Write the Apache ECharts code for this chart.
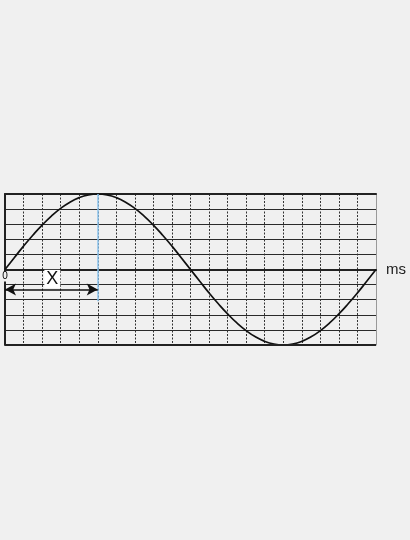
<!DOCTYPE html>
<html>
<head>
<meta charset="utf-8">
<style>
html,body{margin:0;padding:0;background:#f0f0f0;}
#chart{width:410px;height:540px;}
</style>
<script src="https://cdn.jsdelivr.net/npm/echarts@6/dist/echarts.min.js"></script>
</head>
<body>
<div id="chart"></div>
<script>
var xValues = [0,0.5,1,1.5,2,2.5,3,3.5,4,4.5,5,5.5,6,6.5,7,7.5,8,8.5,9,9.5,10,
               10.5,11,11.5,12,12.5,13,13.5,14,14.5,15,15.5,16,16.5,17,17.5,18,18.5,19,19.5,20];
var yValues = [0,0.78,1.55,2.27,2.94,3.54,4.05,4.46,4.76,4.94,5,4.94,4.76,4.46,4.05,3.54,2.94,2.27,1.55,0.78,0,
               -0.78,-1.55,-2.27,-2.94,-3.54,-4.05,-4.46,-4.76,-4.94,-5,-4.94,-4.76,-4.46,-4.05,-3.54,-2.94,-2.27,-1.55,-0.78,0];
var xUnit = 'ms';
var zeroLabel = '0';
var markX = 5;        // blue marker position
var arrowY = -1.32;   // level of the X arrow
var blueBottom = -2.1;
var labelText = 'X';

var chart = echarts.init(document.getElementById('chart'));
var data = xValues.map(function(x,i){return [x, yValues[i]];});
chart.setOption({
  backgroundColor: '#f0f0f0',
  animation: false,
  grid: {left: 5, right: 34, top: 194, bottom: 195},
  xAxis: [{
    type: 'value', min: 0, max: 20, interval: 1,
    name: xUnit, nameLocation: 'end', nameGap: 10,
    nameTextStyle: {color: '#222', fontSize: 15, fontFamily: 'Liberation Sans', verticalAlign: 'middle'},
    axisLine: {show: true, onZero: true, onZeroAxisIndex: 0, lineStyle: {color: '#222', width: 2}},
    axisTick: {show: false},
    axisLabel: {show: false},
    splitLine: {show: true, lineStyle: {color: '#333', width: 1, type: [2,1.5]}}
  }, {
    type: 'value', min: 0, max: 20, position: 'top',
    axisLine: {show: true, onZero: false, lineStyle: {color: '#222', width: 2}},
    axisTick: {show: false}, axisLabel: {show: false}, splitLine: {show: false}
  }],
  yAxis: [{
    type: 'value', min: -5, max: 5, interval: 1,
    axisLine: {show: true, onZero: false, lineStyle: {color: '#222', width: 2}},
    axisTick: {show: false}, axisLabel: {show: false},
    splitLine: {show: true, lineStyle: {color: '#2a2a2a', width: 1.2}}
  }, {
    type: 'value', min: -5, max: 5, position: 'right',
    axisLine: {show: true, onZero: false, lineStyle: {color: '#999', width: 1}},
    axisTick: {show: false}, axisLabel: {show: false}, splitLine: {show: false}
  }],
  series: [{
    type: 'line',
    data: data,
    smooth: true,
    showSymbol: false,
    lineStyle: {color: '#111', width: 1.7},
    markLine: {
      silent: true,
      animation: false,
      data: [
        [{coord: [markX, 5], symbol: 'none'}, {coord: [markX, blueBottom], symbol: 'none', lineStyle: {color: '#8cc4ee', width: 1.5, type: 'solid'}}],
        [{coord: [0, arrowY], symbol: 'arrow'}, {coord: [markX, arrowY], symbol: 'arrow', lineStyle: {color: '#111', width: 1.5, type: 'solid'}}],
        [{coord: [0, -5], symbol: 'none'}, {coord: [20, -5], symbol: 'none', lineStyle: {color: '#222', width: 2, type: 'solid'}}]
      ],
      symbolSize: [9, 11],
      label: {show: false}
    },
    markPoint: {
      silent: true,
      symbol: 'rect', symbolSize: 0,
      data: [
        {coord: [2.55, -0.62], label: {
          show: true, formatter: labelText, position: 'inside',
          color: '#111', fontSize: 18, fontFamily: 'Liberation Sans',
          backgroundColor: '#ffffff', padding: [0, 2, 0, 2]
        }}
      ]
    }
  }]
});
var p0 = chart.convertToPixel({xAxisIndex: 0, yAxisIndex: 0}, [0, 0]);
chart.setOption({
  graphic: [{
    type: 'text', x: p0[0], y: p0[1] + 2, z: 100,
    style: {text: zeroLabel, fill: '#000', fontSize: 10, fontFamily: 'Liberation Sans',
            align: 'center', verticalAlign: 'top', backgroundColor: '#f0f0f0', padding: [0, 0, 0, 0]}
  }]
});
</script>
</body>
</html>
